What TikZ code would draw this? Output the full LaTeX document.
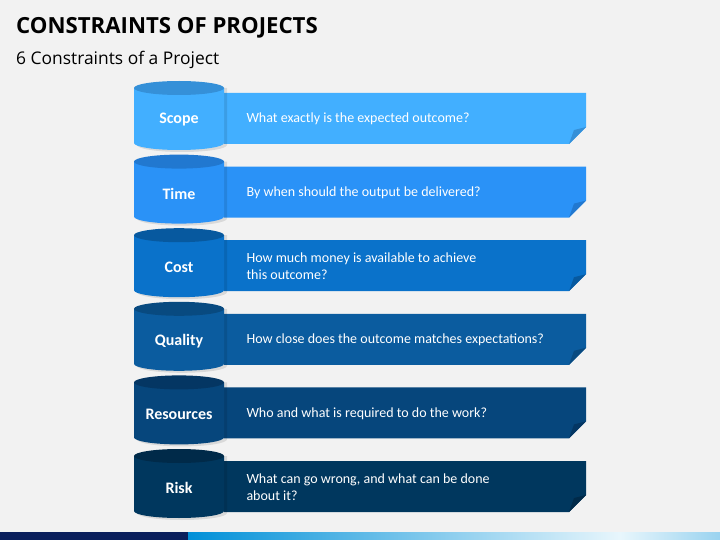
\documentclass[tikz,border=0pt]{standalone}
\usepackage{fontspec}
\setmainfont{Carlito}
\newfontfamily\titlefont{Open Sans}
\usetikzlibrary{positioning}

\definecolor{bgcol}{HTML}{F2F2F2}
\definecolor{navy}{HTML}{0A1F5C}
\definecolor{midblue}{HTML}{0090D8}
\definecolor{paleblue}{HTML}{E8F6FC}
\definecolor{cA}{HTML}{42AFFF}\definecolor{tA}{HTML}{3590D8}
\definecolor{cB}{HTML}{2A92F7}\definecolor{tB}{HTML}{2178D0}
\definecolor{cC}{HTML}{0A72CA}\definecolor{tC}{HTML}{07599F}
\definecolor{cD}{HTML}{0B5C9F}\definecolor{tD}{HTML}{084A80}
\definecolor{cE}{HTML}{06467C}\definecolor{tE}{HTML}{043663}
\definecolor{cF}{HTML}{00375E}\definecolor{tF}{HTML}{002A49}

\tikzset{
  lbl/.style={text=white, font=\bfseries\fontsize{16}{18}\selectfont},
  desc/.style={text=white, anchor=west, align=left, font=\fontsize{14}{16.5}\selectfont},
}

\begin{document}
\begin{tikzpicture}[x=1pt, y=-1pt]
\fill[bgcol] (0,0) rectangle (720,540);
\useasboundingbox (0,0) rectangle (720,540);

% title
\node[anchor=west, font=\titlefont\bfseries\fontsize{22.2}{25}\selectfont, inner sep=0] (title) at (16,28) {CONSTRAINTS OF PROJECTS};
\node[anchor=west, font=\titlefont\fontsize{17.4}{20}\selectfont, inner sep=0] (subtitle) at (16,60) {6 Constraints of a Project};

% rows
\foreach \i/\c/\name/\txt in {0/A/Scope/{What exactly is the expected outcome?},
  1/B/Time/{By when should the output be delivered?},
  2/C/Cost/{How much money is available to achieve\\this outcome?},
  3/D/Quality/{How close does the outcome matches expectations?},
  4/E/Resources/{Who and what is required to do the work?},
  5/F/Risk/{What can go wrong, and what can be done\\about it?}}{
  \pgfmathsetmacro{\yy}{93+73.6*\i}
  % banner
  \fill[c\c] (224,\yy) -- (586,\yy) -- (586,\yy+34) -- (569,\yy+51) -- (224,\yy+51) -- cycle;
  \fill[t\c] (586,\yy+34) -- (569,\yy+51) -- (574,\yy+37) -- cycle;
  % cylinder
  \fill[black, opacity=0.1] (137,\yy-5) -- (137,\yy+52) arc (180:0:45 and 7) -- (227,\yy-5) -- cycle;
  \fill[c\c] (134,\yy-5) -- (134,\yy+50) arc (180:0:45 and 7) -- (224,\yy-5) -- cycle;
  \fill[t\c] (179,\yy-5) ellipse (45 and 7);
  \node[lbl] (cyl\i) at (179,\yy+27) {\name};
  \node[desc] (txt\i) at (243,\yy+26) {\txt};
}

% bottom bar
\fill[navy] (0,532) rectangle (188,540);
\shade[left color=midblue, right color=paleblue] (188,532) rectangle (620,540);
\shade[left color=paleblue, right color=midblue!40] (620,532) rectangle (720,540);
\end{tikzpicture}
\end{document}
